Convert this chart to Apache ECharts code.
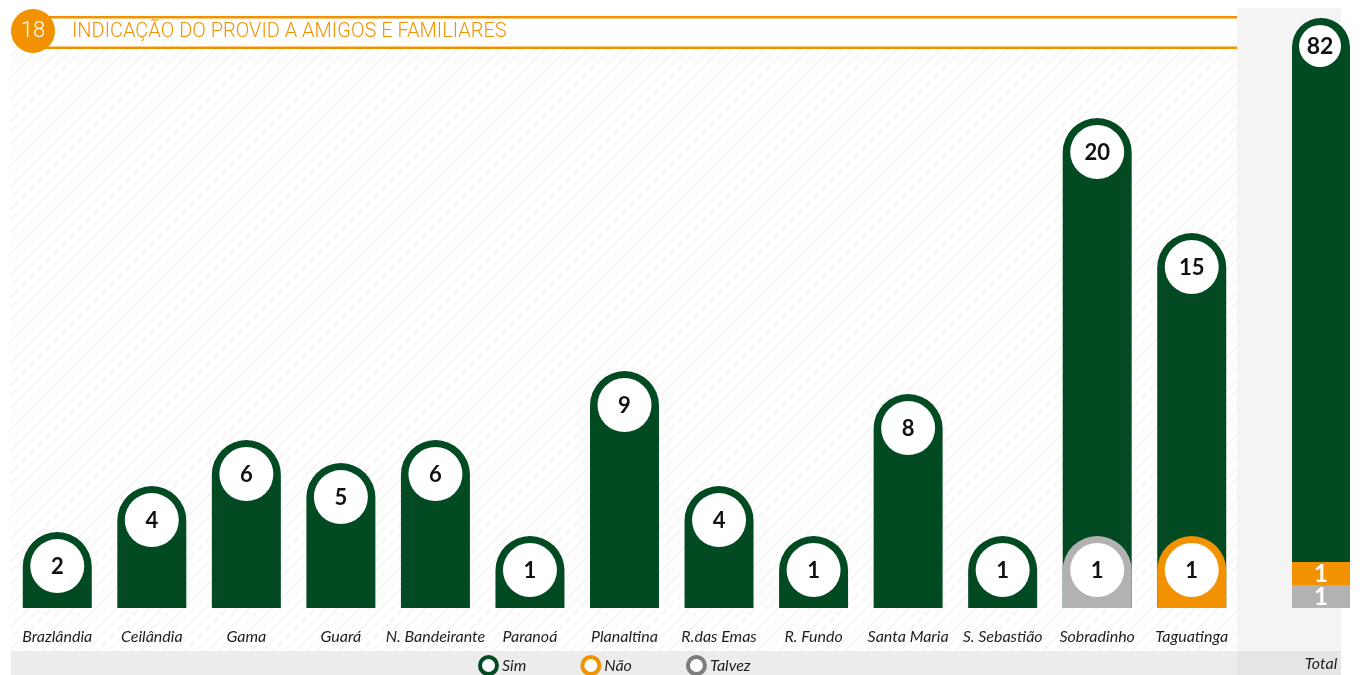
<!DOCTYPE html>
<html>
<head>
<meta charset="utf-8">
<script src="https://cdn.jsdelivr.net/npm/echarts@6/dist/echarts.min.js"></script>
<style>
html, body { margin: 0; padding: 0; background: #fff; }
#chart { width: 1362px; height: 675px; }
</style>
</head>
<body>
<div id="chart"></div>
<script>
var categories = ['Brazlândia', 'Ceilândia', 'Gama', 'Guará', 'N. Bandeirante', 'Paranoá', 'Planaltina',
                  'R.das Emas', 'R. Fundo', 'Santa Maria', 'S. Sebastião', 'Sobradinho', 'Taguatinga'];
var sim    = [2, 4, 6, 5, 6, 1, 9, 4, 1, 8, 1, 20, 15];
var nao    = [0, 0, 0, 0, 0, 0, 0, 0, 0, 0, 0, 0, 1];
var talvez = [0, 0, 0, 0, 0, 0, 0, 0, 0, 0, 0, 1, 0];
var totalSim = 82;
var totalNao = 1;
var totalTalvez = 1;

var GREEN = '#024b22', ORANGE = '#f39200', GREY = '#b2b2b2';
var Y_MIN = -1.3; // room under zero for the label cap

// diagonal hatch used behind the bars
function hatch() {
    var s = 11, c = document.createElement('canvas');
    c.width = s; c.height = s;
    var g = c.getContext('2d');
    g.strokeStyle = '#ebebeb';
    g.lineWidth = 1;
    g.beginPath();
    g.moveTo(0, s); g.lineTo(s, 0);
    g.moveTo(-1, 1); g.lineTo(1, -1);
    g.moveTo(s - 1, s + 1); g.lineTo(s + 1, s - 1);
    g.stroke();
    return c;
}

function barRenderer(color) {
    return function (params, api) {
        var v = api.value(1);
        if (!v) return null;
        var i = api.value(0);
        var base = api.coord([i, Y_MIN]);
        var top = api.coord([i, v]);
        var w = 69, r = w / 2;
        var y0 = Math.min(top[1], base[1] - 72);
        var cx = base[0];
        return {
            type: 'group',
            children: [
                { type: 'rect', shape: { x: cx - r, y: y0, width: w, height: base[1] - y0, r: [r, r, 0, 0] }, style: { fill: color } },
                { type: 'circle', shape: { cx: cx, cy: y0 + 34, r: 27 }, style: { fill: '#fff' } },
                { type: 'text', x: cx, y: y0 + 35, style: { text: String(v), fill: '#111', font: 'bold 22px Lato', align: 'center', verticalAlign: 'middle' } }
            ]
        };
    };
}

function totalRenderer(params, api) {
    var t = api.value(1), n = api.value(2), s = api.value(3);
    var cs = params.coordSys;
    var p0 = api.coord([0, 0]), p1 = api.coord([0, t]), p2 = api.coord([0, t + n]), p3 = api.coord([0, t + n + s]);
    var w = 58, r = 29, cx = p0[0];
    var yTop = Math.max(p3[1], cs.y); // bar is taller than the panel, cut at the top
    return {
        type: 'group',
        children: [
            { type: 'rect', shape: { x: cx - r, y: yTop, width: w, height: p2[1] - yTop, r: [r, r, 0, 0] }, style: { fill: GREEN } },
            { type: 'circle', shape: { cx: cx - 1, cy: yTop + 28, r: 21 }, style: { fill: '#fff' } },
            { type: 'text', x: cx - 1, y: yTop + 29, style: { text: String(s), fill: '#111', font: 'bold 23px Lato', align: 'center', verticalAlign: 'middle' } },
            { type: 'rect', shape: { x: cx - r, y: p2[1], width: w, height: p1[1] - p2[1] }, style: { fill: ORANGE } },
            { type: 'text', x: cx, y: (p1[1] + p2[1]) / 2 + 1, style: { text: String(n), fill: '#fff', font: 'bold 24px Lato', align: 'center', verticalAlign: 'middle' } },
            { type: 'rect', shape: { x: cx - r, y: p1[1], width: w, height: p0[1] - p1[1] }, style: { fill: GREY } },
            { type: 'text', x: cx, y: (p0[1] + p1[1]) / 2 + 1, style: { text: String(t), fill: '#fff', font: 'bold 24px Lato', align: 'center', verticalAlign: 'middle' } }
        ]
    };
}

function pairs(arr) {
    return arr.map(function (v, i) { return [i, v]; });
}

var myChart = echarts.init(document.getElementById('chart'));

var labelStyle = { fontFamily: 'Lato', fontStyle: 'italic', fontSize: 16, color: '#1e1e1e' };

var option = {
    backgroundColor: '#fff',
    animation: false,
    graphic: [
        { type: 'rect', z: -10, shape: { x: 10, y: 49, width: 1227, height: 602 }, style: { fill: { image: hatch(), repeat: 'repeat' } } },
        { type: 'rect', z: -10, shape: { x: 11, y: 651, width: 1226, height: 24 }, style: { fill: '#ececec' } },
        { type: 'rect', z: -10, shape: { x: 1237, y: 8, width: 104, height: 643 }, style: { fill: '#f4f4f4' } },
        { type: 'rect', z: -10, shape: { x: 1237, y: 651, width: 104, height: 24 }, style: { fill: '#e5e5e5' } },
        { type: 'rect', z: -9, shape: { x: 33, y: 16, width: 1204, height: 2.5 }, style: { fill: ORANGE } },
        { type: 'rect', z: -9, shape: { x: 33, y: 46.5, width: 1204, height: 2.5 }, style: { fill: ORANGE } },
        { type: 'circle', z: -8, shape: { cx: 33, cy: 31, r: 22 }, style: { fill: ORANGE } },
        { type: 'text', z: -7, x: 33, y: 31, style: { text: '18', fill: '#fff', font: '300 22px Roboto', align: 'center', verticalAlign: 'middle' } },
        { type: 'text', z: -7, x: 72, y: 32, style: { text: 'INDICAÇÃO DO PROVID A AMIGOS E FAMILIARES', fill: ORANGE, font: '300 20px Roboto', verticalAlign: 'middle' } }
    ],
    legend: {
        data: [
            { name: 'Sim', itemStyle: { color: '#fff', borderColor: GREEN, borderWidth: 4 } },
            { name: 'Não', itemStyle: { color: '#fff', borderColor: ORANGE, borderWidth: 4 } },
            { name: 'Talvez', itemStyle: { color: '#fff', borderColor: '#7d7d7d', borderWidth: 4 } }
        ],
        icon: 'circle',
        left: 473,
        top: 650,
        itemWidth: 17,
        itemHeight: 17,
        itemGap: 54,
        selectedMode: false,
        textStyle: labelStyle
    },
    grid: [
        { left: 10, width: 1229, top: 118, bottom: 67 },
        { left: 1292, width: 58, top: 18, bottom: 67 }
    ],
    xAxis: [
        {
            type: 'category', gridIndex: 0, data: categories,
            axisLine: { show: false }, axisTick: { show: false },
            axisLabel: Object.assign({ margin: 21, interval: 0 }, labelStyle)
        },
        {
            type: 'category', gridIndex: 1, data: ['Total'],
            axisLine: { show: false }, axisTick: { show: false },
            axisLabel: Object.assign({ margin: 48 }, labelStyle)
        }
    ],
    yAxis: [
        { type: 'value', gridIndex: 0, min: Y_MIN, max: 20, show: false },
        { type: 'value', gridIndex: 1, min: 0, max: 25.6, show: false }
    ],
    series: [
        { name: 'Sim', type: 'custom', xAxisIndex: 0, yAxisIndex: 0, itemStyle: { color: GREEN }, renderItem: barRenderer(GREEN), data: pairs(sim), encode: { x: 0, y: 1 } },
        { name: 'Não', type: 'custom', xAxisIndex: 0, yAxisIndex: 0, itemStyle: { color: ORANGE }, renderItem: barRenderer(ORANGE), data: pairs(nao), encode: { x: 0, y: 1 } },
        { name: 'Talvez', type: 'custom', xAxisIndex: 0, yAxisIndex: 0, itemStyle: { color: GREY }, renderItem: barRenderer(GREY), data: pairs(talvez), encode: { x: 0, y: 1 } },
        { name: 'Total', type: 'custom', xAxisIndex: 1, yAxisIndex: 1, renderItem: totalRenderer, data: [[0, totalTalvez, totalNao, totalSim]], encode: { x: 0, y: [1, 2, 3] } }
    ]
};

myChart.setOption(option);
</script>
</body>
</html>
